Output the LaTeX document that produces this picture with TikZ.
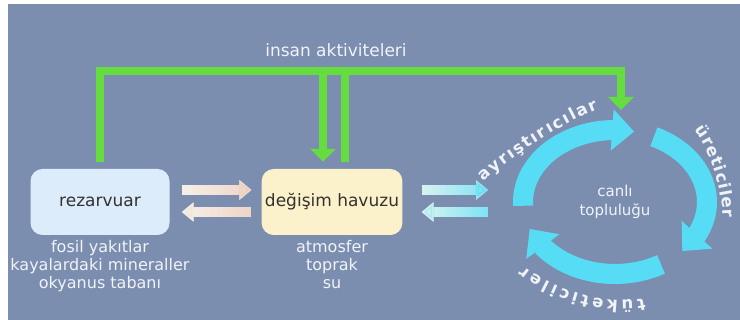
\documentclass[tikz,border=0pt]{standalone}
\usepackage{fontspec}
\setmainfont{DejaVu Sans}
\usetikzlibrary{arrows.meta,bending,positioning,decorations.text,fadings}
\definecolor{bgblue}{RGB}{124,142,176}
\definecolor{actgreen}{RGB}{102,221,62}
\definecolor{ringcyan}{RGB}{86,221,245}
\definecolor{rezfill}{RGB}{221,236,250}
\definecolor{poolfill}{RGB}{251,241,202}
\definecolor{peach}{RGB}{236,206,192}
\definecolor{pale}{RGB}{250,248,240}
\definecolor{labelcol}{RGB}{240,243,248}
\definecolor{boxtext}{RGB}{50,50,50}
\begin{document}
\begin{tikzpicture}[x=1pt,y=1pt,
  store/.style={rectangle,rounded corners=12pt,minimum width=139pt,minimum height=66pt,text=boxtext,font=\fontsize{17}{20}\selectfont},
  detail/.style={align=center,inner sep=0pt,text=labelcol,font=\fontsize{16}{18}\selectfont},
  actline/.style={draw=actgreen,line width=8pt,line join=miter,-{Triangle[length=13pt,width=25pt]}},
  flow/.style={draw=#1,line width=10pt,-{Triangle[length=12pt,width=19pt]}},
  ringarc/.style={draw=ringcyan,line width=20pt,-{Triangle[length=22pt,width=40pt]}},
  ringlabel/.style={decorate,decoration={text along path,text align=fit to path,text color=labelcol,text={|\fontsize{16.5}{16.5}\selectfont\bfseries|#1}}}]
\useasboundingbox (0,0) rectangle (740,320);
\fill[white] (0,0) rectangle (740,320);
\fill[bgblue] (8,0) rectangle (740,316);
\node[store,fill=rezfill] (rez) at (100,118) {rezarvuar};
\node[store,fill=poolfill] (pool) at (332,118) {değişim havuzu};
\node[detail,below=5pt of rez] (rezsub) {fosil yakıtlar\\kayalardaki mineraller\\okyanus tabanı};
\node[detail,below=5pt of pool] (poolsub) {atmosfer\\toprak\\su};
\node[detail,font=\fontsize{17}{20}\selectfont] (act) at (336,270) {insan aktiviteleri};
\coordinate (ring) at (615,118);
\node[detail,font=\fontsize{15}{19}\selectfont] (comm) at (ring) {canlı\\topluluğu};
\coordinate (ringW) at (512,118);
\coordinate (ringin) at (621,210);
\coordinate (bar) at (0,249);
\coordinate (rezup) at ([yshift=7pt]rez.north);
\coordinate (poolin) at ([xshift=-9pt,yshift=7pt]pool.north);
\coordinate (poolout) at ([xshift=13pt,yshift=7pt]pool.north);
\draw[actline] (rezup) |- (bar -| ringin) -- (ringin);
\draw[actline] (poolin |- bar) -- (poolin);
\draw[actline,-] (poolout |- bar) -- (poolout);
\foreach \a/\b/\dy/\sa/\sb/\tint in {rez.east/pool.west/12/12/10/peach,pool.west/rez.east/-10/10/12/peach,pool.east/ringW/12/19/24/ringcyan,ringW/pool.east/-10/24/19/ringcyan}{
  \draw[flow=pale,shorten <=\sa pt,shorten >=\sb pt] ([yshift=\dy pt]\a) -- ([yshift=\dy pt]\b);
  \draw[flow=\tint,path fading=west,shorten <=\sa pt,shorten >=\sb pt] ([yshift=\dy pt]\a) -- ([yshift=\dy pt]\b);
}
\draw[ringarc] (ring) ++(183:92 and 72) arc[start angle=183,end angle=78,x radius=92,y radius=72];
\draw[ringarc] (ring) ++(65:92 and 72) arc[start angle=65,end angle=-43,x radius=92,y radius=72];
\draw[ringarc] (ring) ++(-60:92 and 72) arc[start angle=-60,end angle=-158,x radius=92,y radius=72];
\path[ringlabel=ayrıştırıcılar] (484,138) .. controls (506,160) and (560,196) .. (598,211);
\path[ringlabel=üreticiler] (694,190) .. controls (709,171) and (722,136) .. (723,102);
\path[ringlabel=tüketiciler] (644,22) .. controls (610,14) and (555,28) .. (524,54);
\end{tikzpicture}
\end{document}
